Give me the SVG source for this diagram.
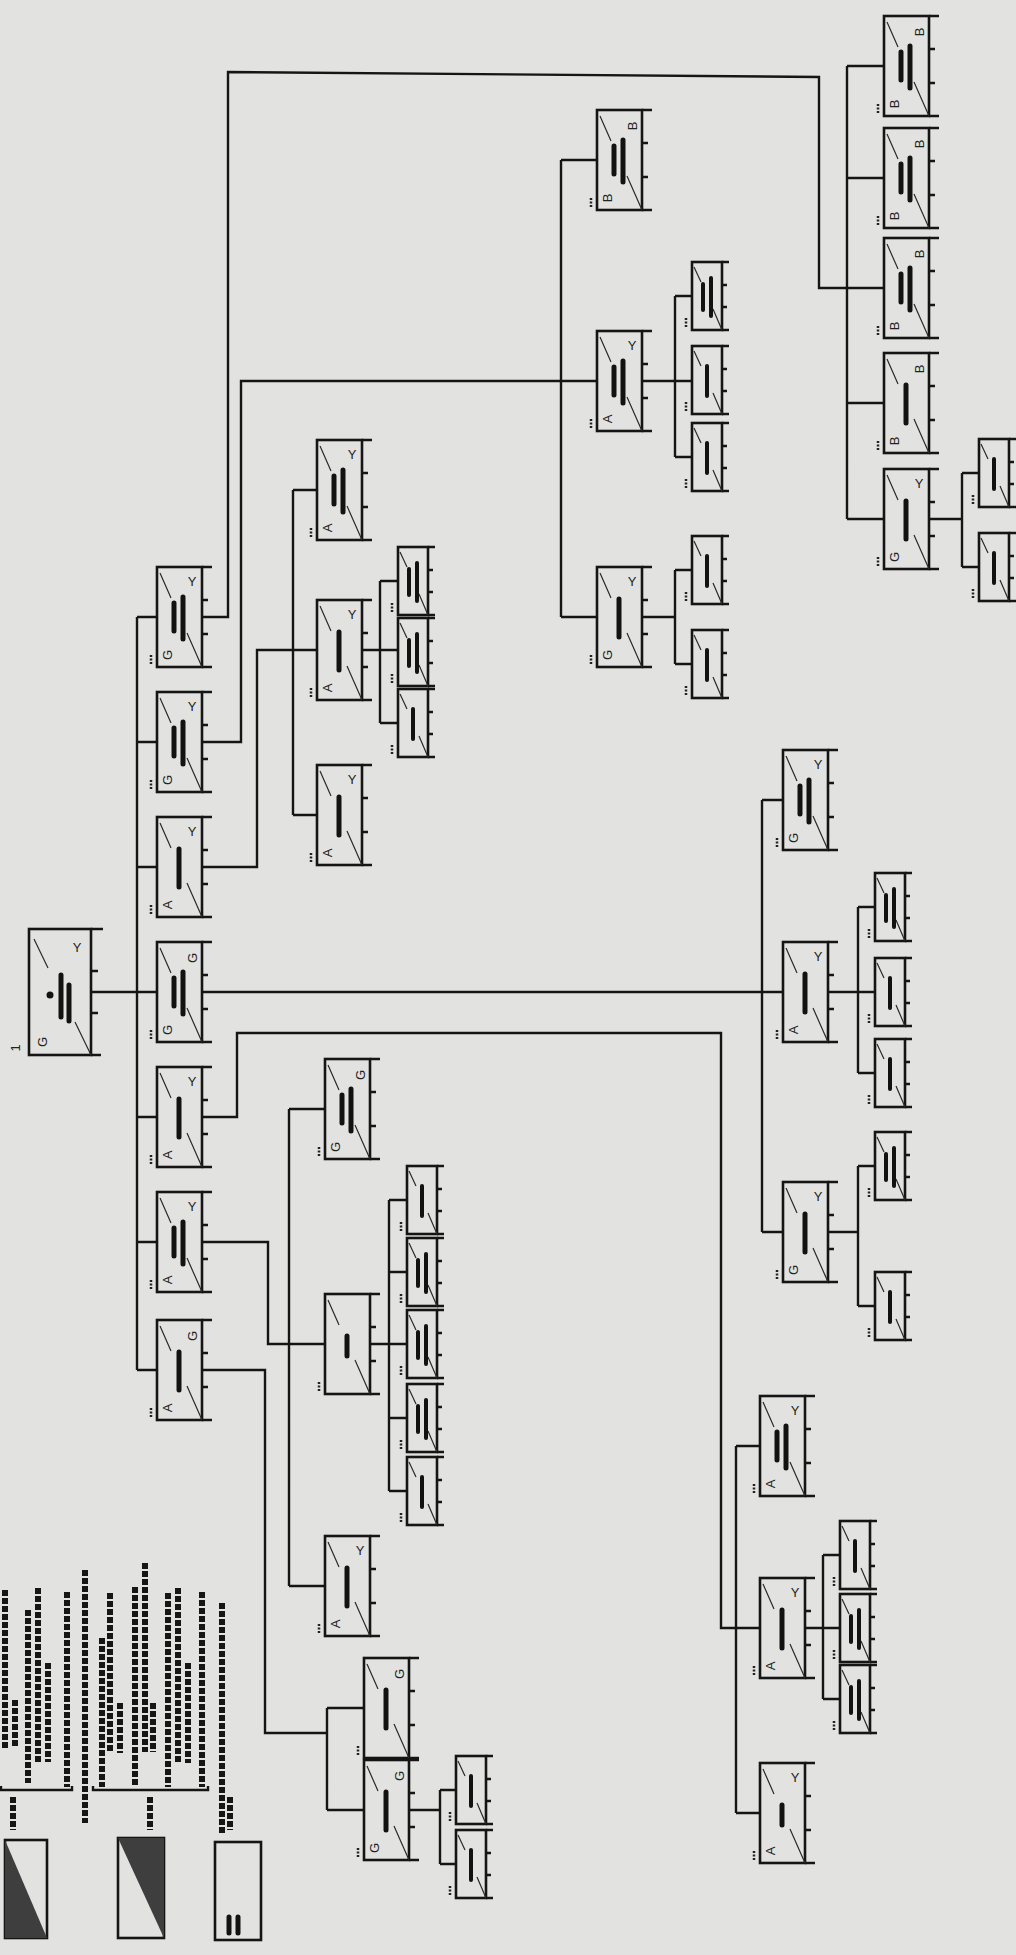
<svg xmlns="http://www.w3.org/2000/svg" width="1016" height="1955" viewBox="0 0 1016 1955">
<style>
.bx{fill:none;stroke:#151515;stroke-width:2.6}
.dg{fill:none;stroke:#2a2a2a;stroke-width:1.2}
.cn{fill:none;stroke:#151515;stroke-width:2.4}
.ink{fill:none;stroke:#121212;stroke-width:5;stroke-linecap:round}
.ins{fill:none;stroke:#121212;stroke-width:4;stroke-linecap:round}
.lb{fill:none;stroke:#222;stroke-width:2.5;stroke-dasharray:2 1.5}
.lt{fill:none;stroke:#161616;stroke-width:6;stroke-dasharray:6 2}
.mk{font-family:"Liberation Sans",Arial,sans-serif;font-size:13px;fill:#222;text-anchor:middle;dominant-baseline:central}
</style>
<defs>
<g id="big">
<rect width="45" height="100" class="bx"/>
<path class="bx" d="M45 0h10M45 100h10M45 33h6M45 67h6"/>
<path class="dg" d="M3 6L14 31M30 66L45 100"/>
<path class="lb" d="M-6 88V97"/>
</g>
<g id="sm">
<rect width="30" height="68" class="bx"/>
<path class="bx" d="M30 0h7M30 68h7M30 23h5M30 45h5"/>
<path class="dg" d="M2 5L9 20M21 47L30 68"/>
<path class="lb" d="M-6 56V65"/>
</g>
<path id="b1" class="ink" d="M22 32V70"/>
<path id="b2" class="ink" d="M17 36V64M26 30V72"/>
<path id="b3" class="ink" d="M22 42V62"/>
<path id="s1" class="ins" d="M15 20V50"/>
<path id="s2" class="ins" d="M11 22V48M19 16V54"/>
</defs>
<rect width="1016" height="1955" fill="#e2e2e0"/>

<g id="connectors">
<path class="cn" d="M91 992H157M137 617V1370M137 617H157M137 742H157M137 867H157M137 1117H157M137 1242H157M137 1370H157"/>
<path class="cn" d="M202 617H228V72L819 77V288H884"/>
<path class="cn" d="M202 742H241V381H597"/>
<path class="cn" d="M202 867H257V650H317"/>
<path class="cn" d="M202 992H783"/>
<path class="cn" d="M202 1117H237V1033H721V1628H760"/>
<path class="cn" d="M202 1242H268V1344H325"/>
<path class="cn" d="M202 1370H265V1733H327"/>
<path class="cn" d="M847 66V519M847 66H884M847 178H884M847 403H884M847 519H884M929 519H962M962 473V567M962 473H979M962 567H979"/>
<path class="cn" d="M561 160V617M561 160H597M561 617H597M642 381H692M675 296V457M675 296H692M675 457H692M642 617H675M675 570V664M675 570H692M675 664H692"/>
<path class="cn" d="M293 490V815M293 490H317M293 815H317M362 650H398M380 581V723M380 581H398M380 723H398"/>
<path class="cn" d="M762 800V1232M762 800H783M762 1232H783M828 992H875M858 907V1073M858 907H875M858 1073H875M828 1232H858M858 1166V1306M858 1166H875M858 1306H875"/>
<path class="cn" d="M736 1446V1813M736 1446H760M736 1813H760M805 1628H840M823 1555V1699M823 1555H840M823 1699H840"/>
<path class="cn" d="M289 1109V1586M289 1109H325M289 1586H325M370 1344H407M389 1200V1491M389 1200H407M389 1272H407M389 1418H407M389 1491H407"/>
<path class="cn" d="M327 1708V1810M327 1708H364M327 1810H364M409 1810H440M440 1790V1864M440 1790H456M440 1864H456"/>
</g>

<g id="n-root" transform="translate(29,929)">
<rect width="62" height="126" class="bx"/>
<path class="bx" d="M62 0h12M62 126h10M62 42h7M62 84h7"/>
<path class="dg" d="M5 10L19 39M46 93L62 126"/>
<circle cx="21" cy="66" r="3.5" fill="#121212"/>
<path class="ink" d="M32 46V88M40 56V92"/>
<text class="mk" x="48" y="18">Y</text>
<text class="mk" transform="translate(13,113) rotate(-90)">G</text>
<text class="mk" transform="translate(-14,119) rotate(-90)">1</text>
</g>

<g id="n-2a" transform="translate(157,567)"><use href="#big"/><use href="#b2"/><text class="mk" x="35" y="14">Y</text><text class="mk" transform="translate(10,88) rotate(-90)">G</text></g>
<g id="n-2b" transform="translate(157,692)"><use href="#big"/><use href="#b2"/><text class="mk" x="35" y="14">Y</text><text class="mk" transform="translate(10,88) rotate(-90)">G</text></g>
<g id="n-2c" transform="translate(157,817)"><use href="#big"/><use href="#b1"/><text class="mk" x="35" y="14">Y</text><text class="mk" transform="translate(10,88) rotate(-90)">A</text></g>
<g id="n-2d" transform="translate(157,942)"><use href="#big"/><use href="#b2"/><text class="mk" transform="translate(35,16) rotate(-90)">G</text><text class="mk" transform="translate(10,88) rotate(-90)">G</text></g>
<g id="n-2e" transform="translate(157,1067)"><use href="#big"/><use href="#b1"/><text class="mk" x="35" y="14">Y</text><text class="mk" transform="translate(10,88) rotate(-90)">A</text></g>
<g id="n-2f" transform="translate(157,1192)"><use href="#big"/><use href="#b2"/><text class="mk" x="35" y="14">Y</text><text class="mk" transform="translate(10,88) rotate(-90)">A</text></g>
<g id="n-2g" transform="translate(157,1320)"><use href="#big"/><use href="#b1"/><text class="mk" transform="translate(35,16) rotate(-90)">G</text><text class="mk" transform="translate(10,88) rotate(-90)">A</text></g>

<g id="n-r1" transform="translate(884,16)"><use href="#big"/><use href="#b2"/><text class="mk" transform="translate(35,16) rotate(-90)">B</text><text class="mk" transform="translate(10,88) rotate(-90)">B</text></g>
<g id="n-r2" transform="translate(884,128)"><use href="#big"/><use href="#b2"/><text class="mk" transform="translate(35,16) rotate(-90)">B</text><text class="mk" transform="translate(10,88) rotate(-90)">B</text></g>
<g id="n-r3" transform="translate(884,238)"><use href="#big"/><use href="#b2"/><text class="mk" transform="translate(35,16) rotate(-90)">B</text><text class="mk" transform="translate(10,88) rotate(-90)">B</text></g>
<g id="n-r4" transform="translate(884,353)"><use href="#big"/><use href="#b1"/><text class="mk" transform="translate(35,16) rotate(-90)">B</text><text class="mk" transform="translate(10,88) rotate(-90)">B</text></g>
<g id="n-r5" transform="translate(884,469)"><use href="#big"/><use href="#b1"/><text class="mk" x="35" y="14">Y</text><text class="mk" transform="translate(10,88) rotate(-90)">G</text></g>
<g id="n-r5a" transform="translate(979,439)"><use href="#sm"/><use href="#s1"/></g>
<g id="n-r5b" transform="translate(979,533)"><use href="#sm"/><use href="#s1"/></g>

<g id="n-b1" transform="translate(597,110)"><use href="#big"/><use href="#b2"/><text class="mk" transform="translate(35,16) rotate(-90)">B</text><text class="mk" transform="translate(10,88) rotate(-90)">B</text></g>
<g id="n-b2" transform="translate(597,331)"><use href="#big"/><use href="#b2"/><text class="mk" x="35" y="14">Y</text><text class="mk" transform="translate(10,88) rotate(-90)">A</text></g>
<g id="n-b3" transform="translate(597,567)"><use href="#big"/><use href="#b1"/><text class="mk" x="35" y="14">Y</text><text class="mk" transform="translate(10,88) rotate(-90)">G</text></g>
<g id="n-b2a" transform="translate(692,262)"><use href="#sm"/><use href="#s2"/></g>
<g id="n-b2b" transform="translate(692,346)"><use href="#sm"/><use href="#s1"/></g>
<g id="n-b2c" transform="translate(692,423)"><use href="#sm"/><use href="#s1"/></g>
<g id="n-b3a" transform="translate(692,536)"><use href="#sm"/><use href="#s1"/></g>
<g id="n-b3b" transform="translate(692,630)"><use href="#sm"/><use href="#s1"/></g>

<g id="n-c1" transform="translate(317,440)"><use href="#big"/><use href="#b2"/><text class="mk" x="35" y="14">Y</text><text class="mk" transform="translate(10,88) rotate(-90)">A</text></g>
<g id="n-c2" transform="translate(317,600)"><use href="#big"/><use href="#b1"/><text class="mk" x="35" y="14">Y</text><text class="mk" transform="translate(10,88) rotate(-90)">A</text></g>
<g id="n-c3" transform="translate(317,765)"><use href="#big"/><use href="#b1"/><text class="mk" x="35" y="14">Y</text><text class="mk" transform="translate(10,88) rotate(-90)">A</text></g>
<g id="n-c2a" transform="translate(398,547)"><use href="#sm"/><use href="#s2"/></g>
<g id="n-c2b" transform="translate(398,618)"><use href="#sm"/><use href="#s2"/></g>
<g id="n-c2c" transform="translate(398,689)"><use href="#sm"/><use href="#s1"/></g>

<g id="n-d1" transform="translate(783,750)"><use href="#big"/><use href="#b2"/><text class="mk" x="35" y="14">Y</text><text class="mk" transform="translate(10,88) rotate(-90)">G</text></g>
<g id="n-d2" transform="translate(783,942)"><use href="#big"/><use href="#b1"/><text class="mk" x="35" y="14">Y</text><text class="mk" transform="translate(10,88) rotate(-90)">A</text></g>
<g id="n-d3" transform="translate(783,1182)"><use href="#big"/><use href="#b1"/><text class="mk" x="35" y="14">Y</text><text class="mk" transform="translate(10,88) rotate(-90)">G</text></g>
<g id="n-d2a" transform="translate(875,873)"><use href="#sm"/><use href="#s2"/></g>
<g id="n-d2b" transform="translate(875,958)"><use href="#sm"/><use href="#s1"/></g>
<g id="n-d2c" transform="translate(875,1039)"><use href="#sm"/><use href="#s1"/></g>
<g id="n-d3a" transform="translate(875,1132)"><use href="#sm"/><use href="#s2"/></g>
<g id="n-d3b" transform="translate(875,1272)"><use href="#sm"/><use href="#s1"/></g>

<g id="n-e1" transform="translate(760,1396)"><use href="#big"/><use href="#b2"/><text class="mk" x="35" y="14">Y</text><text class="mk" transform="translate(10,88) rotate(-90)">A</text></g>
<g id="n-e2" transform="translate(760,1578)"><use href="#big"/><use href="#b1"/><text class="mk" x="35" y="14">Y</text><text class="mk" transform="translate(10,88) rotate(-90)">A</text></g>
<g id="n-e3" transform="translate(760,1763)"><use href="#big"/><use href="#b3"/><text class="mk" x="35" y="14">Y</text><text class="mk" transform="translate(10,88) rotate(-90)">A</text></g>
<g id="n-e2a" transform="translate(840,1521)"><use href="#sm"/><use href="#s1"/></g>
<g id="n-e2b" transform="translate(840,1594)"><use href="#sm"/><use href="#s2"/></g>
<g id="n-e2c" transform="translate(840,1665)"><use href="#sm"/><use href="#s2"/></g>

<g id="n-f1" transform="translate(325,1059)"><use href="#big"/><use href="#b2"/><text class="mk" transform="translate(35,16) rotate(-90)">G</text><text class="mk" transform="translate(10,88) rotate(-90)">G</text></g>
<g id="n-f2" transform="translate(325,1294)"><use href="#big"/><use href="#b3"/></g>
<g id="n-f3" transform="translate(325,1536)"><use href="#big"/><use href="#b1"/><text class="mk" x="35" y="14">Y</text><text class="mk" transform="translate(10,88) rotate(-90)">A</text></g>
<g id="n-f2a" transform="translate(407,1166)"><use href="#sm"/><use href="#s1"/></g>
<g id="n-f2b" transform="translate(407,1238)"><use href="#sm"/><use href="#s2"/></g>
<g id="n-f2c" transform="translate(407,1310)"><use href="#sm"/><use href="#s2"/></g>
<g id="n-f2d" transform="translate(407,1384)"><use href="#sm"/><use href="#s2"/></g>
<g id="n-f2e" transform="translate(407,1457)"><use href="#sm"/><use href="#s1"/></g>

<g id="n-g1" transform="translate(364,1658)"><use href="#big"/><use href="#b1"/><text class="mk" transform="translate(35,16) rotate(-90)">G</text></g>
<g id="n-g2" transform="translate(364,1760)"><use href="#big"/><use href="#b1"/><text class="mk" transform="translate(35,16) rotate(-90)">G</text><text class="mk" transform="translate(10,88) rotate(-90)">G</text></g>
<g id="n-g2a" transform="translate(456,1756)"><use href="#sm"/><use href="#s1"/></g>
<g id="n-g2b" transform="translate(456,1830)"><use href="#sm"/><use href="#s1"/></g>

<g id="legend">
<rect x="5" y="1840" width="42" height="98" class="bx"/>
<polygon points="5,1840 47,1938 5,1938" fill="#3e3e3e"/>
<rect x="118" y="1838" width="46" height="100" class="bx"/>
<polygon points="118,1838 164,1838 164,1938" fill="#3e3e3e"/>
<rect x="215" y="1842" width="46" height="98" class="bx"/>
<path class="ink" d="M229 1917V1933M238 1917V1933"/>
<path class="cn" d="M1 1786V1790H72V1786M93 1786V1790H208V1786"/>
<path class="lt" d="M5 1590V1748M15 1700V1748M28 1610V1783M38 1588V1762M48 1663V1762M67 1592V1787M85 1570V1823M13 1797V1830"/>
<path class="lt" d="M102 1638V1787M110 1593V1753M120 1703V1753M135 1587V1787M145 1563V1752M153 1703V1752M168 1593V1787M178 1588V1763M188 1663V1763M202 1592V1787M150 1797V1830"/>
<path class="lt" d="M222 1603V1835M230 1797V1830"/>
</g>
</svg>
